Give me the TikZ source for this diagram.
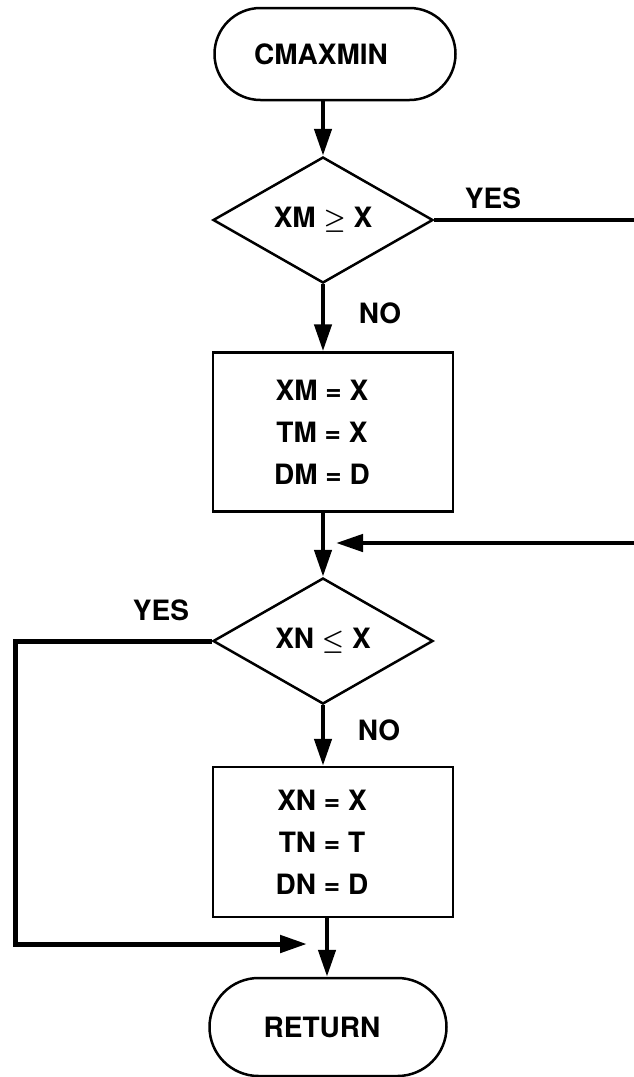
\documentclass[tikz,border=0pt]{standalone}
\usepackage{fontspec}
\setmainfont{TeX Gyre Heros}
\usetikzlibrary{shapes.geometric,shapes.misc,arrows.meta}
\begin{document}
\begin{tikzpicture}[x=1pt,y=-1pt,
  txt/.style={font=\fontsize{28}{42}\selectfont\bfseries\boldmath},
  term/.style={rounded rectangle, draw, line width=2.5pt, minimum width=241pt, minimum height=92pt, inner sep=0pt, txt},
  dec/.style={diamond, draw, line width=2.5pt, minimum width=220pt, minimum height=126pt, inner sep=0pt, txt},
  proc/.style={rectangle, draw, line width=2.5pt, minimum width=240pt, inner sep=0pt, txt},
  inbox/.style={align=center, txt, inner sep=0pt},
  lbl/.style={txt},
  conn/.style={line width=4.5pt},
  arr/.style={conn, -{Triangle[length=27pt,width=17pt]}},
]
\useasboundingbox (0,0) rectangle (634,1077);
\node[term, label={[inbox, xshift=-14pt]center:CMAXMIN}] (start) at (335,54) {};
\node[dec] (d1) at (323,220) {XM $\geq$ X};
\node[proc, minimum height=159pt, label={[inbox, xshift=-11pt]center:XM = X\\TM = X\\DM = D}] (p1) at (333,432) {};
\node[dec] (d2) at (323,641) {XN $\leq$ X};
\node[proc, minimum height=150pt, label={[inbox, xshift=-11pt]center:XN = X\\TN = T\\DN = D}] (p2) at (333,842) {};
\node[term, minimum width=237pt, minimum height=98pt, label={[inbox, xshift=-6pt]center:RETURN}] (end) at (328,1027) {};

\node[lbl] (yes1) at (493,198) {YES};
\node[lbl] (no1) at (380,313) {NO};
\node[lbl] (yes2) at (161,610) {YES};
\node[lbl] (no2) at (379,730) {NO};

\coordinate (r1) at (634,220);
\coordinate (r2) at (634,543);
\coordinate (l2) at (15,944);
\coordinate (ax) at (327,0);

\draw[arr] (start.south -| d1) -- (d1.north);
\draw[arr] (d1.south) -- (p1.north -| d1);
\draw[conn] (d1.east) -- (r1);
\draw[arr] (p1.south -| d1) -- (d2.north);
\draw[arr, shorten >=13pt] (r2) -- (r2 -| d1);
\draw[arr] (d2.south) -- (p2.north -| d2);
\draw[arr, line width=5pt, shorten >=20pt] (d2.west) -| (l2) -- (l2 -| ax);
\draw[arr] (p2.south -| ax) -- (end.north -| ax);
\end{tikzpicture}
\end{document}
